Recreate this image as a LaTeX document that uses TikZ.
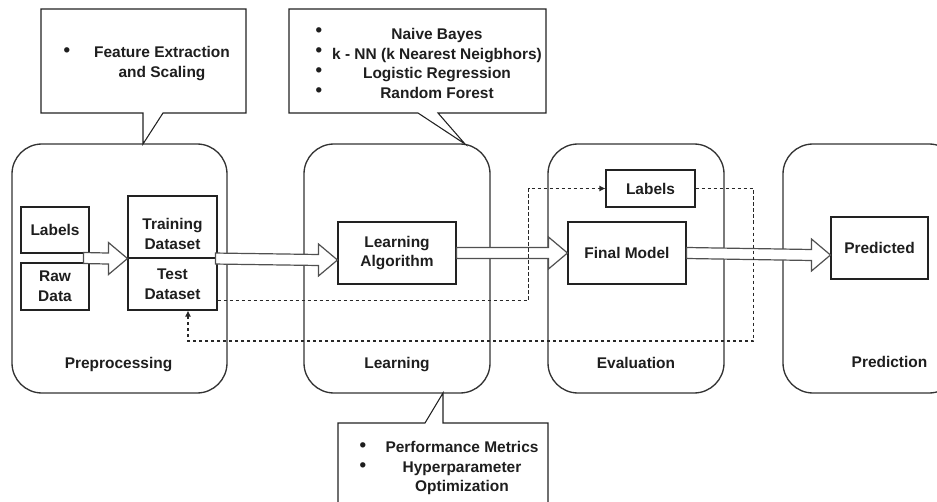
\documentclass[tikz,border=0pt]{standalone}
\usepackage{fontspec}
\setmainfont{Liberation Sans}
\usetikzlibrary{calc,arrows.meta}

\tikzset{
  txt/.style={font=\fontsize{11.6}{14.8}\selectfont\bfseries, align=center, inner sep=0pt, text={rgb, 255:red, 30; green, 30; blue, 30}},
  dot/.style={txt, font=\fontsize{14}{14}\selectfont\bfseries},
  stage/.style={draw={rgb, 255:red, 51; green, 51; blue, 51}, line width=1pt, rounded corners=22.5pt, minimum width=132pt, minimum height=186.75pt},
  box/.style={txt, draw={rgb, 255:red, 34; green, 34; blue, 34}, line width=0.8pt, fill=white, minimum height=46.5pt},
  callout/.style={draw={rgb, 255:red, 34; green, 34; blue, 34}, line width=0.8pt, fill=white},
  fatarrow/.style={draw={rgb, 255:red, 80; green, 80; blue, 80}, line width=0.9pt, fill=white, line join=miter},
  feedback/.style={draw={rgb, 255:red, 40; green, 40; blue, 40}, line width=0.8pt, dash pattern=on 2.4pt off 2.1pt, -{Latex[length=4.5pt,width=4.5pt]}},
}

% hollow block arrow from #1 to the tip #2
\newcommand{\fatarrow}[2]{%
  \draw[fatarrow] ($(#1)+(0,-5.5)$) -- ($(#2)+(-19,-5.5)$) -- ($(#2)+(-19,-16)$) -- (#2) -- ($(#2)+(-19,16)$) -- ($(#2)+(-19,5.5)$) -- ($(#1)+(0,5.5)$) -- cycle ;}

\begin{document}
\begin{tikzpicture}[x=0.75pt,y=0.75pt,yscale=-1,xscale=1]
\useasboundingbox (0,0) rectangle (937,502);
\clip (0,0) rectangle (937,502);

%Shape: Rounded Rect (the four stages)
\node[stage, minimum width=161.25pt] (prep) at (119.5,268.5) {};
\node[stage, minimum width=139.5pt] (learn) at (397,268.5) {};
\node[stage] (eval) at (636,268.5) {};
\node[stage] (predict) at (871,268.5) {};

%Shape: Callouts
\draw[callout] (41,9) -- (246,9) -- (246,113) -- (163,113) -- (143,144) -- (143,113) -- (41,113) -- cycle ;
\draw[callout] (289,9) -- (546,9) -- (546,113) -- (438,113) -- (465,144) -- (418,113) -- (289,113) -- cycle ;
\draw[callout] (338,423) -- (425,423) -- (443,393) -- (443,423) -- (548,423) -- (548,512) -- (338,512) -- cycle ;

% Text Node
\node[txt] (feat) at (162,63.5) {Feature Extraction\\and Scaling};
\node[txt] (algos) at (437,63.5) {Naive Bayes\\k - NN (k Nearest Neigbhors)\\Logistic Regression\\Random Forest};
\node[txt] (tuning) at (462,468) {Performance Metrics\\Hyperparameter\\Optimization};
\node[dot] (b1) at (67,52) {\textbullet};
\foreach \y in {32,52,72,92}
  \node[dot] (b2-\y) at (319,\y) {\textbullet};
\foreach \y in {447,467}
  \node[dot] (b3-\y) at (363,\y) {\textbullet};

%Shape: Rectangle
\node[box, minimum width=51pt, minimum height=34.5pt] (lbl) at (55,230) {Labels};
\node[box, minimum width=51pt, minimum height=35.25pt] (raw) at (55,286.5) {Raw\\Data};
\node[box, minimum width=66.75pt] (train) at (172.5,227) {};
\node[txt] (traintxt) at (172.5,234) {Training\\Dataset};
\node[box, minimum width=66.75pt, minimum height=39pt] (test) at (172.5,284) {Test\\Dataset};
\node[box, minimum width=88.5pt] (algo) at (397,253) {Learning\\Algorithm};
\node[box, minimum width=66.75pt, minimum height=27.75pt] (lbl2) at (650.5,188.5) {Labels};
\node[box, minimum width=88.5pt] (model) at (627,253) {Final Model};
\node[box, minimum width=72.75pt] (pred) at (879.5,248) {Predicted};

% Text Node
\node[txt, anchor=base] (tprep) at (118.5,368) {Preprocessing};
\node[txt, anchor=base] (tlearn) at (397,368) {Learning};
\node[txt, anchor=base] (teval) at (636,368) {Evaluation};
\node[txt, anchor=base] (tpredict) at (889.5,367) {Prediction};

%Block Arrows
\coordinate (lr) at ($(lbl.south east)!0.5!(raw.north east)+(-6,0)$);
\coordinate (trainout) at ($(train.south east)+(-2,0)$);
\coordinate (algoin) at ($(algo.west)+(0,7)$);
\coordinate (predin) at ($(pred.west)+(0,7)$);
\fatarrow{lr}{train.south west}
\fatarrow{trainout}{algoin}
\fatarrow{algo.east}{model.west}
\fatarrow{model.east}{predin}

%Dashed Lines
\draw[feedback] ($(test.south east)+(0,-10)$) -- ++(311,0) |- (lbl2.west) ;
\draw[feedback] (lbl2.east) -- ++(58,0) -- ++(0,152.5) -| ($(test.south)+(15.5,0)$) ;

\end{tikzpicture}
\end{document}
